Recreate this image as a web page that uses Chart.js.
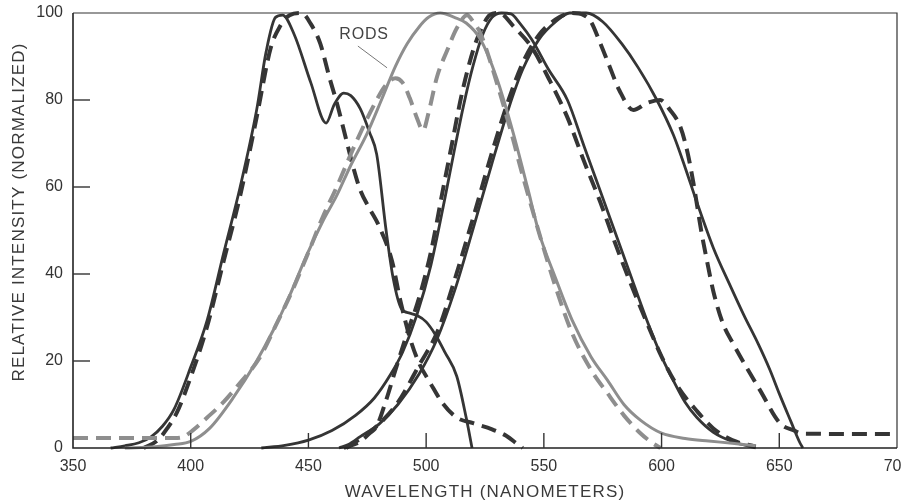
<!DOCTYPE html>
<html><head><meta charset="utf-8">
<script src="https://cdn.jsdelivr.net/npm/chart.js@4.4.0/dist/chart.umd.min.js"></script>
<style>html,body{margin:0;padding:0;background:#fff}#wrap{width:902px;height:504px}</style>
</head><body><div id="wrap"><canvas id="c" width="902" height="504"></canvas></div>
<script>
const xTicks = [350,400,450,500,550,600,650,700];
const yTicks = [0,20,40,60,80,100];

const blueSolidX = [366,372,378,383,388,393,400,407,414,421,428,432,436,439,444,451,457.5,461,465,468,472,476,479,483,486,489.5,493,496,500,504,508,513,517,519.5];
const blueSolidY = [0,0.5,1.2,2.5,5,9,18.6,29.4,44.8,60,77.7,91,99,99.5,95,84,74.7,79,81.6,81,78,72.5,67.5,50,39,32,31,30.5,29,26,22,16.5,7,0];

const blueDashX = [380,386,390,394,400,407,414,421,428,434,438,442,447,451,455,459,462,466,469,472,476,480,485.5,489,493,497,501.7,507,513,520,528,534,539,541];
const blueDashY = [0,1.8,4.5,8,16.3,28,43,58,76,92,97,99.5,100,97.5,93,85,79.5,71,64.6,59.3,55,51,43,34,25.5,19.5,15,10.3,7,5.7,4.3,2.8,0.8,0];

const rodSolidX = [372,385,393,400,408,418,428,435,442,449,456,462,468,475,481,487,492,497,501,506,512,517,523,530,537,543,548,555,562,570,577,584,591,600,610,620,630,640];
const rodSolidY = [0,0.3,0.8,1.5,4.5,11.5,20,27,35,44,52,58,65,72.4,80,87.8,93,96.8,99,100,99,97.7,94,85,72.4,60,49.4,39,29.4,21,15.6,10,6.4,3.4,2.2,1.6,1.1,0.5];

const rodDashX = [350,393,397,401,407,414,421,429,436,443,450,456,462,470,478,483,487,490,493,496,498.7,501,504.6,509,513,517.4,520,523,530,537,540,548,555,562,570,577,584,591,596,599.5];
const rodDashY = [2.3,2.3,2.6,4.1,7,10.6,15,20.5,28,36,45,53,60,70,79,83.5,85,84,80.5,76,73,77,85.3,91.5,96.5,99.5,98,95.4,84,70.8,64.6,49.4,37,26.4,18,12.6,7.5,3.4,1.2,0];

const greenSolidX = [430,440,450,460,470,478,485,490,496,502,508,512,516,520,524,528,532,536,540,545,552,560,567,574,580,586,594,600,605,610,615,622,630,640];
const greenSolidY = [0,0.6,1.8,4,7.5,11.5,17,22,30.5,42,57.5,68.5,79,88,95,99,100,99.8,97.5,93.8,87,80,69.5,59,50,41,29,21,15.5,10.5,7,3.6,1.5,0];

const greenDashX = [465,472,476,479,483,487,492,497,502,507,511,515,520,524,527,531,537,545,552,560,567,574,580,586,594,600,607,615,622,630,640];
const greenDashY = [0,1.5,3.4,5,11,18,26.5,34.5,45,59,70,81,91.5,97,99.5,100,97,92,85,76,66,56.5,47.5,39,28.5,21,14,8.5,4.5,1.8,0.3];

const redSolidX = [463,467,472,480,488,497,504.6,512,520,528,535,541,548,555,561,568,575,583,590,598,605,610,615,622,629,635,641,646,650,655,658.5,660];
const redSolidY = [0,0.8,2.6,5.5,10,17,25,36,50.5,65.5,78,87,94,98,100,100,98,93,87.5,80,72,64.5,56.5,46,37.5,30.5,24,18,12.5,6,1.5,0];

const redDashX = [466,473,480,488,497,505,512,520,528,535,541,548,555,562,567,570,574,578,582,588,593.8,599.4,603.6,608,611,613.5,617,619.3,622,626,630.4,636,641.8,650.3,656,660,700];
const redDashY = [0,2.5,5.5,10.5,19,27,38.5,53,68,80,88.5,95,98.5,100,99.5,98,93,87.6,82.3,77.7,79.3,80,77.7,73.8,68,61,49.4,43,36,28.7,24,18.6,13.3,5.7,4.1,3.3,3.2];

const rodsLabel = "RODS";
const xTitle = "WAVELENGTH (NANOMETERS)";
const yTitle = "RELATIVE INTENSITY (NORMALIZED)";

const DARK = '#353535', GRAY = '#8e8e8e';
const FONT = "'Liberation Sans', Arial, Helvetica, sans-serif";

function pts(xs, ys){ return xs.map((x,i)=>({x:x, y:ys[i]})); }
function ds(xs, ys, color, dashed, w){
  return {data: pts(xs,ys), borderColor: color, borderWidth: w, borderDash: dashed ? [15,8] : [],
    pointRadius: 0, fill: false, cubicInterpolationMode: 'monotone', clip: 6, borderCapStyle: 'butt'};
}

const decor = {
  id: 'decor',
  afterDraw(chart){
    const ctx = chart.ctx, a = chart.chartArea, xs = chart.scales.x, ys = chart.scales.y;
    ctx.save();
    ctx.strokeStyle = '#333'; ctx.lineWidth = 1.2;
    ctx.beginPath(); ctx.moveTo(a.left, a.top); ctx.lineTo(a.right, a.top); ctx.lineTo(a.right, a.bottom); ctx.stroke();
    ctx.strokeStyle = '#222'; ctx.lineWidth = 1.6;
    ctx.beginPath(); ctx.moveTo(a.left, a.top); ctx.lineTo(a.left, a.bottom); ctx.lineTo(a.right, a.bottom); ctx.stroke();
    ctx.lineWidth = 1.4; ctx.strokeStyle = '#333';
    yTicks.forEach(v => { if (v>0 && v<100){ const y = ys.getPixelForValue(v); ctx.beginPath(); ctx.moveTo(a.left, y); ctx.lineTo(a.left+17, y); ctx.stroke(); }});
    xTicks.forEach(v => { if (v>350 && v<700){ const x = xs.getPixelForValue(v); ctx.beginPath(); ctx.moveTo(x, a.bottom); ctx.lineTo(x, a.bottom-15); ctx.stroke(); }});
    ctx.fillStyle = '#444';
    ctx.font = "16px " + FONT;
    try { ctx.letterSpacing = '0.8px'; } catch(e){}
    ctx.textAlign = 'center'; ctx.textBaseline = 'middle';
    ctx.fillText(rodsLabel, xs.getPixelForValue(473.6), ys.getPixelForValue(95));
    ctx.strokeStyle = '#777'; ctx.lineWidth = 1;
    ctx.beginPath(); ctx.moveTo(xs.getPixelForValue(471), ys.getPixelForValue(92.4)); ctx.lineTo(xs.getPixelForValue(483.4), ys.getPixelForValue(87.4)); ctx.stroke();
    ctx.font = "17px " + FONT;
    try { ctx.letterSpacing = '1.2px'; } catch(e){}
    ctx.fillStyle = '#3a3a3a';
    ctx.fillText(xTitle, (a.left+a.right)/2, 492);
    ctx.translate(19, 212); ctx.rotate(-Math.PI/2);
    ctx.fillText(yTitle, 0, 0);
    ctx.restore();
  }
};

new Chart(document.getElementById('c'), {
  type: 'line',
  data: { datasets: [
    ds(rodSolidX, rodSolidY, GRAY, false, 3),
    ds(rodDashX, rodDashY, GRAY, true, 4),
    ds(blueSolidX, blueSolidY, DARK, false, 2.8),
    ds(blueDashX, blueDashY, DARK, true, 4),
    ds(greenSolidX, greenSolidY, DARK, false, 2.8),
    ds(greenDashX, greenDashY, DARK, true, 4),
    ds(redSolidX, redSolidY, DARK, false, 2.8),
    ds(redDashX, redDashY, DARK, true, 4)
  ]},
  options: {
    responsive: false, animation: false, devicePixelRatio: 1,
    layout: { padding: { top: 13, right: 5, left: 0, bottom: 0 } },
    plugins: { legend: { display: false }, tooltip: { enabled: false } },
    scales: {
      x: { type: 'linear', min: 350, max: 700,
        afterBuildTicks: s => { s.ticks = xTicks.map(v => ({value: v})); },
        grid: { display: false, drawTicks: false }, border: { display: false },
        ticks: { padding: 9, color: '#333', font: { family: FONT, size: 16 }, maxRotation: 0, autoSkip: false },
        afterFit: s => { s.height = 56; s.paddingLeft = 0; s.paddingRight = 0; } },
      y: { min: 0, max: 100,
        afterBuildTicks: s => { s.ticks = yTicks.map(v => ({value: v})); },
        grid: { display: false, drawTicks: false }, border: { display: false },
        ticks: { padding: 10, color: '#333', font: { family: FONT, size: 16 } },
        afterFit: s => { s.width = 73; s.paddingTop = 0; s.paddingBottom = 0; } }
    }
  },
  plugins: [decor]
});
</script></body></html>
